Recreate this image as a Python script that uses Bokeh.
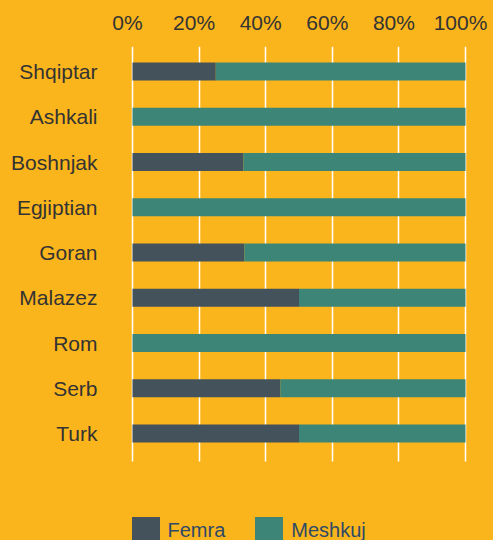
from bokeh.plotting import figure
from bokeh.models import ColumnDataSource, Range1d, FixedTicker, LinearAxis
from bokeh.embed import file_html
from bokeh.resources import INLINE

# ---- data ----
groups = ["Shqiptar", "Ashkali", "Boshnjak", "Egjiptian", "Goran",
          "Malazez", "Rom", "Serb", "Turk"]
femra = [25.0, 0.0, 33.3, 0.0, 33.6, 50.0, 0.0, 44.4, 50.0]
meshkuj = [100.0 - f for f in femra]
series = ["Femra", "Meshkuj"]
tick_values = [0, 20, 40, 60, 80, 100]
tick_labels = ["0%", "20%", "40%", "60%", "80%", "100%"]

BG = "#FBB51C"
DARK = "#44525C"
TEAL = "#3D8577"
TEXT = "#333333"
LEGEND_TEXT = "#2F4A66"

rows = list(range(len(groups)))
source = ColumnDataSource(dict(row=rows, group=groups, Femra=femra, Meshkuj=meshkuj))

# rows run top -> bottom; extra room at the bottom holds the legend
ROW_TOP = -0.5525
ROW_BOTTOM = 10.3646
GRID_END = 8.62
X_START, X_END = -1.8, 100.6   # a little room round 0% / 100%
LABEL_SHIFT = 1.5              # top tick labels sit slightly left of their grid lines

p = figure(width=493, height=540, output_backend="svg", toolbar_location=None,
           y_range=Range1d(ROW_BOTTOM, ROW_TOP),
           x_range=Range1d(X_START, X_END), x_axis_location=None,
           min_border_left=126, min_border_right=26, min_border_top=46,
           min_border_bottom=0)
p.extra_x_ranges = {"labels": Range1d(X_START + LABEL_SHIFT, X_END + LABEL_SHIFT)}

p.background_fill_color = BG
p.border_fill_color = BG
p.outline_line_color = None

p.hbar_stack(series, y="row", height=0.4, color=[DARK, TEAL], source=source,
             line_color=None, legend_label=series)

ticker = FixedTicker(ticks=tick_values)
top_axis = LinearAxis(x_range_name="labels", ticker=FixedTicker(ticks=tick_values),
                      major_label_overrides={v: l for v, l in zip(tick_values, tick_labels)})
p.add_layout(top_axis, "above")

p.yaxis.ticker = FixedTicker(ticks=rows)
p.yaxis.major_label_overrides = {r: g for r, g in zip(rows, groups)}
p.xgrid.ticker = ticker
p.xgrid.grid_line_color = "white"
p.xgrid.grid_line_width = 1.5
p.xgrid.cross_bounds = (ROW_TOP, GRID_END)
p.ygrid.grid_line_color = None

for ax in (top_axis, p.yaxis[0]):
    ax.axis_line_color = None
    ax.major_tick_line_color = None
    ax.minor_tick_line_color = None
    ax.major_tick_out = 0
    ax.major_tick_in = 0
    ax.major_label_text_font = "Liberation Sans"
    ax.major_label_text_font_size = "21px"
    ax.major_label_text_color = TEXT
top_axis.major_label_standoff = 13
p.yaxis.major_label_standoff = 29

lg = p.legend[0]
lg.orientation = "horizontal"
lg.location = (1.5, -7.5)
lg.padding = 0
lg.margin = 0
lg.spacing = 26
lg.glyph_width = 35
lg.glyph_height = 35
lg.label_standoff = 5
lg.label_text_font = "Liberation Sans"
lg.label_text_font_size = "20px"
lg.label_text_color = LEGEND_TEXT
lg.border_line_color = None
lg.background_fill_alpha = 0

html = file_html(p, INLINE)
html = html.replace("</head>", "<style>html,body{background:%s;overflow:hidden;}</style></head>" % BG, 1)
open("out.html", "w").write(html)
